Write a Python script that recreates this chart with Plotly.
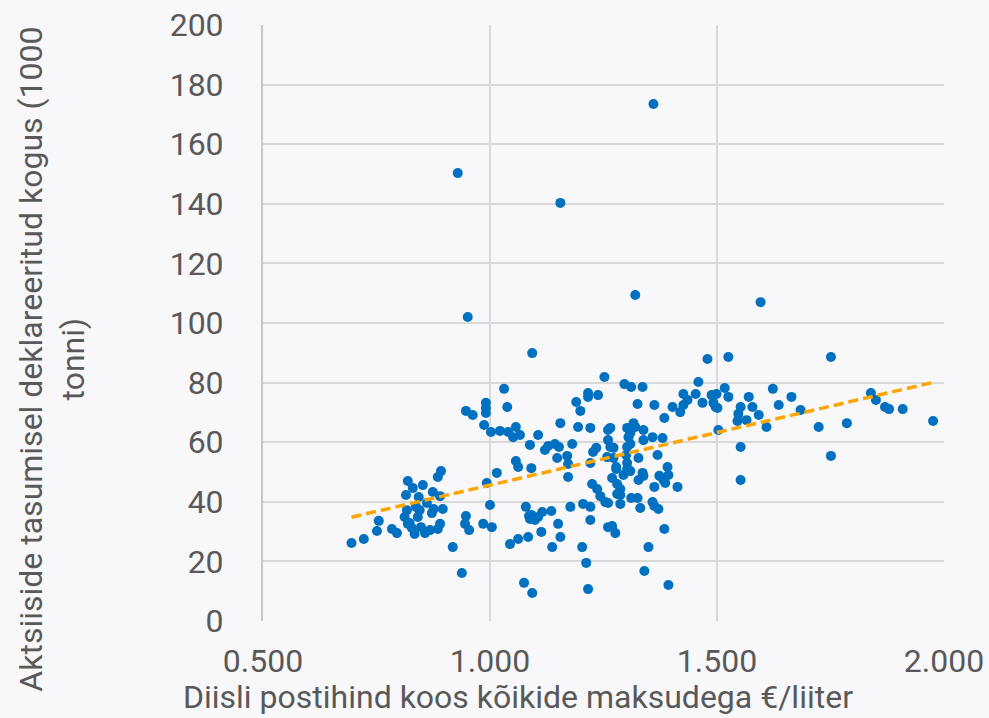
import plotly.graph_objects as go

# (price €/l, quantity 1000 t), grouped by price band
band_low = [
    (0.695, 26.2), (0.722, 27.5), (0.751, 30.2), (0.755, 33.6), (0.784, 30.9), (0.795, 29.5),
    (0.819, 47.0), (0.830, 44.6), (0.852, 45.6), (0.815, 42.3), (0.843, 41.6), (0.874, 43.3),
    (0.890, 41.9), (0.892, 50.3), (0.885, 48.3), (0.861, 39.6), (0.837, 38.3), (0.817, 37.2),
    (0.876, 37.6), (0.896, 37.6), (0.872, 36.2), (0.812, 34.9), (0.841, 34.9), (0.823, 32.9),
    (0.819, 32.6), (0.848, 31.5), (0.834, 29.2), (0.857, 29.5), (0.868, 30.5), (0.890, 32.6),
    (0.885, 30.9), (0.918, 24.8), (0.938, 16.1), (0.947, 35.2), (0.945, 32.6), (0.954, 30.5),
    (0.985, 32.6), (1.004, 31.5), (1.000, 38.9), (0.993, 46.3), (1.015, 49.7), (0.947, 70.5),
    (0.962, 69.1), (0.991, 73.2), (0.991, 71.5), (0.991, 69.8), (0.987, 65.8), (1.002, 63.4),
    (0.929, 150.3), (0.951, 102.0), (0.845, 37.2), (0.828, 31.2),
]
band_mid1 = [
    (1.022, 63.8), (1.040, 63.4), (1.057, 65.1), (1.051, 61.7), (1.066, 62.4), (1.031, 77.9),
    (1.038, 71.8), (1.057, 53.7), (1.062, 51.7), (1.091, 51.3), (1.088, 59.1), (1.106, 62.4),
    (1.093, 89.9), (1.044, 25.8), (1.062, 27.5), (1.079, 38.3), (1.086, 35.2), (1.075, 12.8),
    (1.093, 9.4), (1.084, 28.2), (1.091, 35.6), (1.088, 34.2), (1.099, 33.9), (1.106, 34.9),
    (1.115, 36.6), (1.135, 36.9), (1.150, 32.6), (1.155, 28.2), (1.113, 29.9), (1.137, 24.8),
    (1.121, 57.4), (1.128, 58.7), (1.143, 59.4), (1.152, 58.4), (1.155, 66.4), (1.148, 54.7),
    (1.170, 55.4), (1.172, 52.7), (1.172, 48.3), (1.181, 59.4),
]
band_mid2 = [
    (1.190, 73.5), (1.199, 70.5), (1.216, 76.5), (1.216, 75.2), (1.238, 75.8), (1.194, 65.1),
    (1.221, 64.8), (1.252, 81.9), (1.265, 64.8), (1.260, 64.1), (1.260, 60.7), (1.234, 58.1),
    (1.227, 56.7), (1.272, 58.1), (1.265, 58.4), (1.221, 53.0), (1.258, 55.0), (1.272, 54.7),
    (1.177, 38.3), (1.205, 39.3), (1.221, 38.3), (1.221, 33.9), (1.260, 31.5), (1.269, 31.9),
    (1.276, 29.5), (1.203, 24.8), (1.212, 19.5), (1.216, 10.7), (1.225, 46.0), (1.236, 44.3),
    (1.243, 41.9), (1.254, 39.9), (1.260, 39.6), (1.269, 48.0), (1.280, 46.0), (1.287, 44.3),
    (1.280, 42.6), (1.287, 42.3), (1.278, 51.7), (1.278, 51.0), (1.287, 39.3),
]
band_mid3 = [
    (1.296, 79.5), (1.311, 78.5), (1.325, 72.8), (1.336, 78.5), (1.362, 72.5), (1.302, 64.8),
    (1.316, 66.4), (1.320, 65.1), (1.309, 63.1), (1.305, 61.7), (1.302, 58.4), (1.309, 59.4),
    (1.338, 64.1), (1.338, 60.7), (1.358, 61.7), (1.380, 61.4), (1.369, 55.7), (1.384, 68.1),
    (1.300, 55.7), (1.302, 53.0), (1.302, 51.0), (1.309, 50.3), (1.294, 49.0), (1.327, 54.7),
    (1.327, 47.3), (1.336, 49.7), (1.338, 48.7), (1.311, 41.3), (1.325, 41.3), (1.331, 37.9),
    (1.358, 39.9), (1.362, 38.6), (1.371, 37.6), (1.362, 45.0), (1.373, 48.7), (1.382, 47.3),
    (1.391, 51.7), (1.393, 49.0), (1.386, 46.3), (1.413, 45.0), (1.384, 30.9), (1.349, 24.8),
    (1.340, 16.8), (1.393, 12.1), (1.320, 109.4), (1.360, 173.5), (1.155, 140.3),
]
band_high1 = [
    (1.426, 76.2), (1.435, 74.2), (1.426, 72.5), (1.419, 70.1), (1.453, 76.2), (1.468, 73.2),
    (1.459, 80.2), (1.479, 87.9), (1.488, 75.8), (1.499, 76.2), (1.492, 73.2), (1.501, 71.5),
    (1.497, 71.8), (1.517, 78.2), (1.525, 75.2), (1.525, 88.6), (1.402, 71.8), (1.503, 64.1),
    (1.552, 71.8), (1.547, 69.5), (1.545, 67.1), (1.570, 75.2), (1.578, 71.8), (1.592, 69.1),
    (1.565, 67.4), (1.552, 58.4), (1.552, 47.3), (1.596, 107.0),
]
band_high2 = [
    (1.609, 65.1), (1.623, 77.9), (1.636, 72.5), (1.664, 75.2), (1.684, 70.8), (1.724, 65.1),
    (1.786, 66.4), (1.751, 88.6), (1.751, 55.4), (1.839, 76.5), (1.850, 74.2), (1.870, 71.8),
    (1.879, 71.1), (1.909, 71.1), (1.976, 67.1),
]

# linear trend
trend_slope = 35.3
trend_intercept = 10.3

x_title = "Diisli postihind koos kõikide maksudega €/liiter"
y_title = "Aktsiiside tasumisel deklareeritud kogus (1000<br>tonni)"
x_ticks = [0.5, 1.0, 1.5, 2.0]
y_ticks = list(range(0, 201, 20))

points = band_low + band_mid1 + band_mid2 + band_mid3 + band_high1 + band_high2
px = [p[0] for p in points]
qy = [p[1] for p in points]

bg = "#f8f8fa"
grid = "#d9d9d9"
txt = "#595959"
font_family = "Roboto, Noto Sans, sans-serif"
fs = 32

fig = go.Figure()
fig.add_trace(go.Scatter(
    x=px, y=qy, mode="markers",
    marker=dict(color="#0070c0", size=10, line=dict(width=0)),
    showlegend=False, hoverinfo="x+y",
))
tx = [min(px), max(px)]
ty = [trend_intercept + trend_slope * v for v in tx]
fig.add_trace(go.Scatter(
    x=tx, y=ty, mode="lines",
    line=dict(color="#ffa500", width=3.5, dash="10px,5px"),
    showlegend=False, hoverinfo="skip",
))

fig.update_layout(
    width=989, height=718,
    margin=dict(l=263, r=45, t=25, b=97, autoexpand=False),
    paper_bgcolor=bg, plot_bgcolor=bg,
    font=dict(family=font_family, color=txt, size=fs),
    xaxis=dict(
        range=[0.5, 2.0], tickvals=x_ticks, ticktext=[f"{v:.3f}" for v in x_ticks],
        showgrid=True, gridcolor=grid, gridwidth=2, automargin=False,
        zeroline=False, showline=False, ticks="",
        tickfont=dict(size=fs, color=txt), ticklabelstandoff=18,
    ),
    yaxis=dict(
        range=[0, 200], tickvals=y_ticks, automargin=False,
        showgrid=True, gridcolor=grid, gridwidth=2,
        zeroline=False, showline=True, linecolor="#c8c8c8", linewidth=2,
        ticks="", tickfont=dict(size=fs, color=txt), ticklabelstandoff=31,
    ),
    annotations=[
        dict(text=x_title, xref="paper", yref="paper", x=0.374, y=-0.128,
             xanchor="center", yanchor="middle", showarrow=False,
             font=dict(size=fs, color=txt, family=font_family)),
        dict(text=y_title, xref="paper", yref="paper", x=-0.31, y=0.44,
             xanchor="center", yanchor="middle", showarrow=False, textangle=-90,
             font=dict(size=fs, color=txt, family=font_family)),
    ],
)

fig.write_html(
    "out.html",
    config={"displayModeBar": False},
    post_script="document.body.style.margin='0px';document.body.style.overflow='hidden';",
)
